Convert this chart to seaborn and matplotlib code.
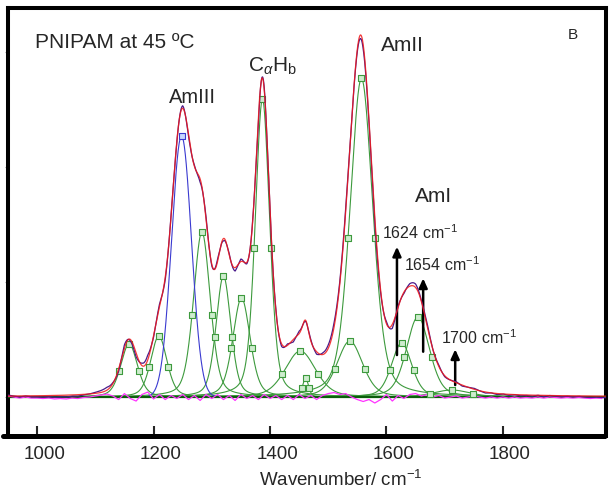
"""PNIPAM at 45 C: band fit of the amide / C-H region (panel B)."""
import matplotlib.pyplot as plt
import numpy as np
import pandas as pd
import seaborn as sns
from matplotlib.lines import Line2D
from matplotlib.transforms import ScaledTranslation

# fitted green components (pseudo-Voigt)
green_centres = [1158, 1209, 1283, 1320, 1351, 1387, 1452, 1461, 1537, 1557, 1626, 1654, 1712]
green_heights = [0.461, 0.530, 1.435, 1.052, 0.861, 2.590, 0.400, 0.165, 0.487, 2.770, 0.470, 0.696, 0.061]
green_fwhm = [34, 33, 34, 30, 35, 29, 62, 12, 52, 46, 41, 47, 73]

# the one blue (gaussian) component under AmIII
blue_centre = 1248
blue_height = 2.270
blue_fwhm = 40

# residual (data - fit), every 10 cm-1 from 950, in hundredths
residual_hundredths = [
    0.9, 0.0, -0.9, 0.0, -0.9, -0.9, -1.3, -0.9, -1.7, -1.3,
    -1.7, -0.9, -1.3, -0.4, 0.0, 0.9, 1.7, 2.6, 0.9, -2.2,
    3.0, -1.3, -3.5, 2.2, 4.3, -1.7, 2.2, -2.2, 1.3, -1.3,
    2.2, -2.2, 1.3, -3.0, 2.2, -1.3, 2.2, -2.2, 1.3, -3.0,
    2.2, -1.3, 1.3, -2.2, 2.2, -1.3, 1.3, -2.2, 1.3, -2.2,
    2.2, -1.3, 1.3, -2.2, 1.3, 3.0, 3.9, 2.2, 3.0, 0.0,
    -2.2, -3.9, -2.2, -5.2, -2.2, 2.2, -3.5, 1.3, -1.3, 2.2,
    3.0, 0.9, 2.2, 0.0, 1.3, -0.9, 0.0, 0.9, -0.9, 0.0,
    0.9, 0.0, -0.9, 0.0, -0.9, 0.0, -0.9, 0.0, -0.9, -0.4,
    -0.9, 0.0, -0.9, 0.0, -0.4, -0.9, -0.4, -0.9, -0.4, -0.9,
    -1.3, -0.9, -1.3,
]

arrow_wn = [1618, 1663, 1718]
arrow_base = [0.365, 0.394, 0.104]
arrow_tip = [1.307, 1.032, 0.415]
arrow_labels = ["1624", "1654", "1700"]

GREEN = "#3d9a3d"
BLUE = "#3a3ad0"
RED = "#f01818"
DATA = "#4a1a8a"
MAGENTA = "#ff33ff"
ETA = 0.35  # lorentzian share of the green band shape


def gaussian(x, c, h, w):
    return h * np.exp(-4 * np.log(2) * ((x - c) / w) ** 2)


def lorentzian(x, c, h, w):
    return h / (1 + ((x - c) / (w / 2)) ** 2)


def pseudo_voigt(x, c, h, w, eta=ETA):
    return eta * lorentzian(x, c, h, w) + (1 - eta) * gaussian(x, c, h, w)


sns.set_style("white")
plt.rcParams["font.family"] = ["Liberation Sans", "DejaVu Sans"]
plt.rcParams["mathtext.fontset"] = "custom"
plt.rcParams["mathtext.rm"] = "Liberation Sans"
plt.rcParams["mathtext.it"] = "Liberation Sans:italic"

wn = np.linspace(950, 1977, 2500)

rows = []
markers = []
for i, (c, h, w) in enumerate(zip(green_centres, green_heights, green_fwhm)):
    rows.append(pd.DataFrame({"wn": wn, "intensity": pseudo_voigt(wn, c, h, w), "peak": i}))
    markers += [(c - w / 2, h / 2), (c, h), (c + w / 2, h / 2)]
comp_df = pd.concat(rows, ignore_index=True)
marker_df = pd.DataFrame(markers, columns=["wn", "intensity"])

blue_curve = gaussian(wn, blue_centre, blue_height, blue_fwhm)
fit = comp_df.groupby("wn")["intensity"].sum().to_numpy() + blue_curve

residual = np.array(residual_hundredths) * 0.01
residual_wn = np.arange(950, 950 + 10 * len(residual), 10)
data = fit + np.interp(wn, residual_wn, residual)

fig = plt.figure(figsize=(6.14, 4.93), dpi=100)
ax = fig.add_axes([8 / 614, (493 - 436) / 493, 598 / 614, 428 / 493])

sns.lineplot(data=comp_df, x="wn", y="intensity", units="peak", estimator=None,
             color=GREEN, lw=0.8, ax=ax, legend=False)
sns.lineplot(x=wn, y=blue_curve, color=BLUE, lw=0.8, ax=ax)
ax.axhline(0, color="#0b5e0b", lw=1.6, zorder=3)
sns.lineplot(x=residual_wn, y=residual, color=MAGENTA, lw=0.9, ax=ax, zorder=4)
sns.scatterplot(data=marker_df, x="wn", y="intensity", marker="s", s=13,
                facecolor="#cdeccd", edgecolor=GREEN, linewidth=0.8, ax=ax, zorder=5)
ax.scatter([blue_centre], [blue_height], marker="s", s=13, facecolor="#c8d8ff",
           edgecolor=BLUE, linewidth=0.8, zorder=5)
sns.lineplot(x=wn, y=data, color=DATA, lw=0.9, ax=ax, zorder=6)
sns.lineplot(x=wn, y=fit, color=RED, lw=0.9, alpha=0.85, ax=ax, zorder=7)

for x, y0, y1 in zip(arrow_wn, arrow_base, arrow_tip):
    ax.annotate("", xy=(x, y1), xytext=(x, y0),
                arrowprops=dict(arrowstyle="-|>,head_width=0.25,head_length=0.55",
                                color="black", lw=1.8, shrinkA=0, shrinkB=0))

label_pos = [(1592, 1.426), (1630, 1.148), (1694, 0.513)]
for (x, y), lab in zip(label_pos, arrow_labels):
    ax.text(x, y, lab + r" cm$^{\mathrm{-1}}$", fontsize=11.5, va="center", ha="left")

ax.text(996, 3.035, "PNIPAM at 45 ºC", fontsize=15, va="baseline", ha="left")
ax.text(1912, 3.148, "B", fontsize=11, va="center", ha="left")
ax.text(1267, 2.609, "AmIII", fontsize=14.5, va="center", ha="center")
ax.text(1404, 2.826, r"C$_{\alpha}$H$_{\mathrm{b}}$", fontsize=15, va="baseline", ha="center")
ax.text(1628, 3.061, "AmII", fontsize=15, va="center", ha="center")
ax.text(1681, 1.748, "AmI", fontsize=15, va="center", ha="center")

ax.set_xlim(950, 1977)
ax.set_ylim(-0.339, 3.383)
ax.set_xlabel("")
ax.set_ylabel("")
ax.set_xticks([1000, 1200, 1400, 1600, 1800])
ax.set_yticks([0, 1, 2, 3])
ax.tick_params(axis="x", direction="in", length=7, width=1.5, pad=7, labelsize=13.5,
               bottom=True)
ax.tick_params(axis="y", direction="out", length=2.5, width=0.8, color="#999999",
               labelleft=False, left=True)
shift = ScaledTranslation(7 / 100, 0, fig.dpi_scale_trans)
for lab in ax.get_xticklabels():
    lab.set_transform(lab.get_transform() + shift)

for side in ["left", "top", "right"]:
    ax.spines[side].set_linewidth(2.9)
    ax.spines[side].set_color("black")
ax.spines["bottom"].set_linewidth(3.6)
ax.spines["bottom"].set_color("black")
ax.spines["bottom"].set_capstyle("butt")

fig.add_artist(Line2D([3 / 614, 10 / 614], [(493 - 436) / 493] * 2, color="black", lw=3.6))
fig.text(341 / 614, 1 - 480 / 493, r"Wavenumber/ cm$^{\mathrm{-1}}$", fontsize=13.5,
         ha="center", va="center")

fig.savefig("out.png", dpi=100)
plt.close(fig)
